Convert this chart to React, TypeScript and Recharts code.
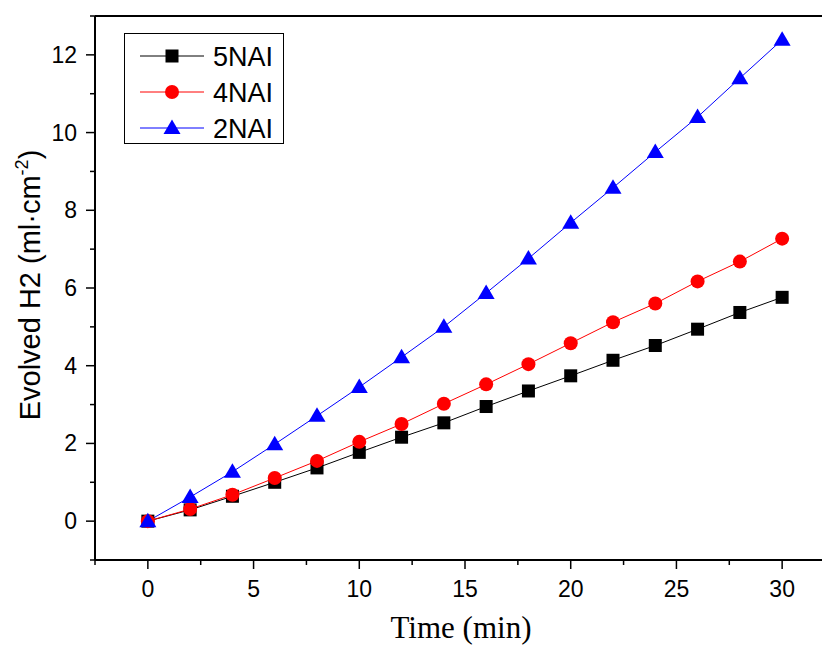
import React from 'react';
import { LineChart, Line, XAxis, YAxis, ReferenceLine, Legend } from 'recharts';

const times = [0, 2, 4, 6, 8, 10, 12, 14, 16, 18, 20, 22, 24, 26, 28, 30];
const nai5 = [0, 0.29, 0.64, 1.0, 1.37, 1.77, 2.16, 2.53, 2.95, 3.35, 3.74, 4.14, 4.52, 4.94, 5.37, 5.76];
const nai4 = [0, 0.31, 0.68, 1.11, 1.55, 2.04, 2.5, 3.02, 3.52, 4.04, 4.58, 5.12, 5.6, 6.17, 6.68, 7.27];
const nai2 = [0, 0.62, 1.27, 1.98, 2.71, 3.45, 4.22, 5.0, 5.87, 6.76, 7.68, 8.58, 9.5, 10.4, 11.4, 12.39];

const xTicks = [-2.5, 0, 2.5, 5, 7.5, 10, 12.5, 15, 17.5, 20, 22.5, 25, 27.5, 30, 32.5];
const yTicks = [-1, 0, 1, 2, 3, 4, 5, 6, 7, 8, 9, 10, 11, 12, 13];

const seriesNames = ['5NAI', '4NAI', '2NAI'];
const seriesColors = ['#000000', '#ff0000', '#0000ff'];
const seriesKeys = ['nai5', 'nai4', 'nai2'];

const data = times.map((t, i) => ({ t, nai5: nai5[i], nai4: nai4[i], nai2: nai2[i] }));

const SANS = '"Liberation Sans", Arial, sans-serif';
const SERIF = '"Liberation Serif", "Times New Roman", serif';

const Square = (p: any) => (
  <rect key={`s${p.index}`} x={p.cx - 6.5} y={p.cy - 6.5} width={13} height={13} fill="#000" />
);
const Dot = (p: any) => <circle key={`c${p.index}`} cx={p.cx} cy={p.cy} r={7} fill="#ff0000" />;
const Tri = (p: any) => (
  <polygon
    key={`t${p.index}`}
    points={`${p.cx},${p.cy - 8.5} ${p.cx - 8.5},${p.cy + 6} ${p.cx + 8.5},${p.cy + 6}`}
    fill="#0000ff"
  />
);

const markerFor = (i: number, cx: number, cy: number) => {
  if (i === 0) return <rect x={cx - 6.5} y={cy - 6.5} width={13} height={13} fill="#000" />;
  if (i === 1) return <circle cx={cx} cy={cy} r={7} fill="#ff0000" />;
  return <polygon points={`${cx},${cy - 8.5} ${cx - 8.5},${cy + 6} ${cx + 8.5},${cy + 6}`} fill="#0000ff" />;
};

const XTick = (props: any) => {
  const { x, y, payload } = props;
  const v = payload.value;
  const major = Math.abs(v % 5) < 1e-9;
  return (
    <g>
      <line x1={x} x2={x} y1={y} y2={y + (major ? 9 : 5)} stroke="#000" strokeWidth={1.5} />
      {major && (
        <text x={x} y={y + 37} textAnchor="middle" fontSize={23} fontFamily={SANS} fill="#000">
          {v}
        </text>
      )}
    </g>
  );
};

const YTick = (props: any) => {
  const { x, y, payload } = props;
  const v = payload.value;
  const major = Math.abs(v % 2) < 1e-9;
  return (
    <g>
      <line x1={x} x2={x - (major ? 9 : 5)} y1={y} y2={y} stroke="#000" strokeWidth={1.5} />
      {major && (
        <text x={x - 18} y={y + 8} textAnchor="end" fontSize={23} fontFamily={SANS} fill="#000">
          {v}
        </text>
      )}
    </g>
  );
};

const YLabel = (props: any) => {
  const vb = props.viewBox || { x: 0, y: 16, width: 95, height: 544 };
  const cx = vb.x + 40;
  const cy = vb.y + vb.height / 2 - 3;
  return (
    <text
      x={cx}
      y={cy}
      transform={`rotate(-90 ${cx} ${cy})`}
      textAnchor="middle"
      fontSize={29}
      fontFamily={SANS}
      fill="#000"
    >
      Evolved H2 (ml·cm
      <tspan fontSize={18} dy={-12}>-2</tspan>
      <tspan dy={12}>)</tspan>
    </text>
  );
};

const XLabel = (props: any) => {
  const vb = props.viewBox || { x: 95, y: 560, width: 740, height: 86 };
  return (
    <text x={461} y={vb.y + 78} textAnchor="middle" fontSize={31} fontFamily={SERIF} fill="#000">
      Time (min)
    </text>
  );
};

const LegendBox = () => (
  <svg width={160} height={111} style={{ display: 'block' }}>
    <rect x={0.5} y={0.5} width={159} height={110} fill="#fff" stroke="#000" strokeWidth={1} />
    {seriesNames.map((name, i) => {
      const cy = 23 + i * 36;
      return (
        <g key={name}>
          <line x1={16} x2={80} y1={cy} y2={cy} stroke={seriesColors[i]} strokeWidth={1} />
          {markerFor(i, 48, cy)}
          <text x={89} y={cy + 10} fontSize={27} fontFamily={SANS} fill="#000">
            {name}
          </text>
        </g>
      );
    })}
  </svg>
);

export default function App() {
  return (
    <div
      style={{
        position: 'absolute',
        left: 0,
        top: 0,
        width: 822,
        height: 646,
        overflow: 'hidden',
        background: '#fff',
      }}
    >
      <LineChart width={860} height={646} data={data} margin={{ top: 16, right: 25, bottom: 0, left: 0 }}>
        <XAxis
          dataKey="t"
          type="number"
          domain={[-2.5, 32.5]}
          ticks={xTicks}
          interval={0}
          tickSize={0}
          tickMargin={0}
          tickLine={false}
          tick={<XTick />}
          height={86}
          axisLine={{ stroke: '#000', strokeWidth: 2 }}
          label={<XLabel />}
        />
        <YAxis
          type="number"
          domain={[-1, 13]}
          ticks={yTicks}
          interval={0}
          tickSize={0}
          tickMargin={0}
          tickLine={false}
          tick={<YTick />}
          width={95}
          axisLine={{ stroke: '#000', strokeWidth: 2 }}
          label={<YLabel />}
        />
        <ReferenceLine y={13} stroke="#000" strokeWidth={2} />
        <ReferenceLine x={32.5} stroke="#000" strokeWidth={2} />
        <Legend
          layout="horizontal"
          verticalAlign="middle"
          align="center"
          content={<LegendBox />}
          wrapperStyle={{ left: 124, top: 33, width: 160, height: 111 }}
        />
        <Line
          dataKey={seriesKeys[0]}
          name={seriesNames[0]}
          stroke={seriesColors[0]}
          strokeWidth={1}
          dot={Square}
          activeDot={false}
          isAnimationActive={false}
        />
        <Line
          dataKey={seriesKeys[1]}
          name={seriesNames[1]}
          stroke={seriesColors[1]}
          strokeWidth={1}
          dot={Dot}
          activeDot={false}
          isAnimationActive={false}
        />
        <Line
          dataKey={seriesKeys[2]}
          name={seriesNames[2]}
          stroke={seriesColors[2]}
          strokeWidth={1}
          dot={Tri}
          activeDot={false}
          isAnimationActive={false}
        />
      </LineChart>
    </div>
  );
}
